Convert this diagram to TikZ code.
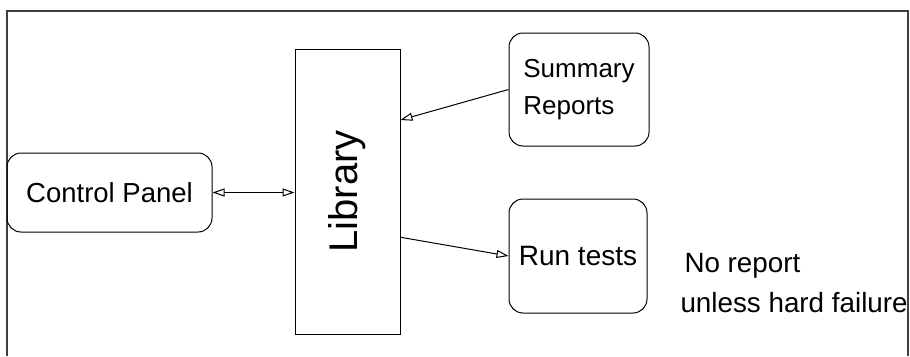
\documentclass[tikz,border=0pt]{standalone}
\usepackage{fontspec}
\setmainfont{Liberation Sans}
\usetikzlibrary{arrows.meta,calc}

\begin{document}
\begin{tikzpicture}[x=1pt,y=-1pt,line width=1pt,
    block/.style={draw,rectangle,inner sep=0pt},
    rblock/.style={draw,rectangle,rounded corners=14pt,inner sep=0pt,align=left,font=\fontsize{26}{37}\selectfont},
    label/.style={inner sep=0pt,font=\fontsize{27.8}{32}\selectfont},
    tip/.style={-{Triangle[open,length=12pt,width=8pt]}}]
    \useasboundingbox (0,0) rectangle (910,356);
    % frame, open at the bottom
    \draw[line width=1.3pt,black!75] (7,356) -- (7,11) -- (908,11) -- (908,356);

    \node[block,minimum width=105,minimum height=285] (library) at (347.5,191.5)
        {\rotatebox{90}{\fontsize{40}{48}\selectfont Library}};
    \node[rblock,minimum width=205,minimum height=79] (panel) at (109.5,192.5)
        {\fontsize{27.5}{32}\selectfont Control Panel};
    \node[rblock,minimum width=140,minimum height=113] (summary) at (579,89.5)
        {Summary\\Reports};
    \node[rblock,minimum width=138,minimum height=114] (run) at (578,256)
        {\fontsize{28}{32}\selectfont Run tests};
    \node[label,anchor=base west] (noreport) at (684,272) {No report};
    \node[label,anchor=base west] (unless) at (680,312) {unless hard failure};

    \draw[{Triangle[open,length=12pt,width=8pt]}-{Triangle[open,length=12pt,width=8pt]}]
        (panel.east) -- (panel.east -| library.west);
    \draw[tip] (summary.west) -- ($(library.north east)!0.25!(library.south east)$);
    \draw[tip] ($(library.north east)!0.66!(library.south east)$) -- (run.west);
\end{tikzpicture}
\end{document}
